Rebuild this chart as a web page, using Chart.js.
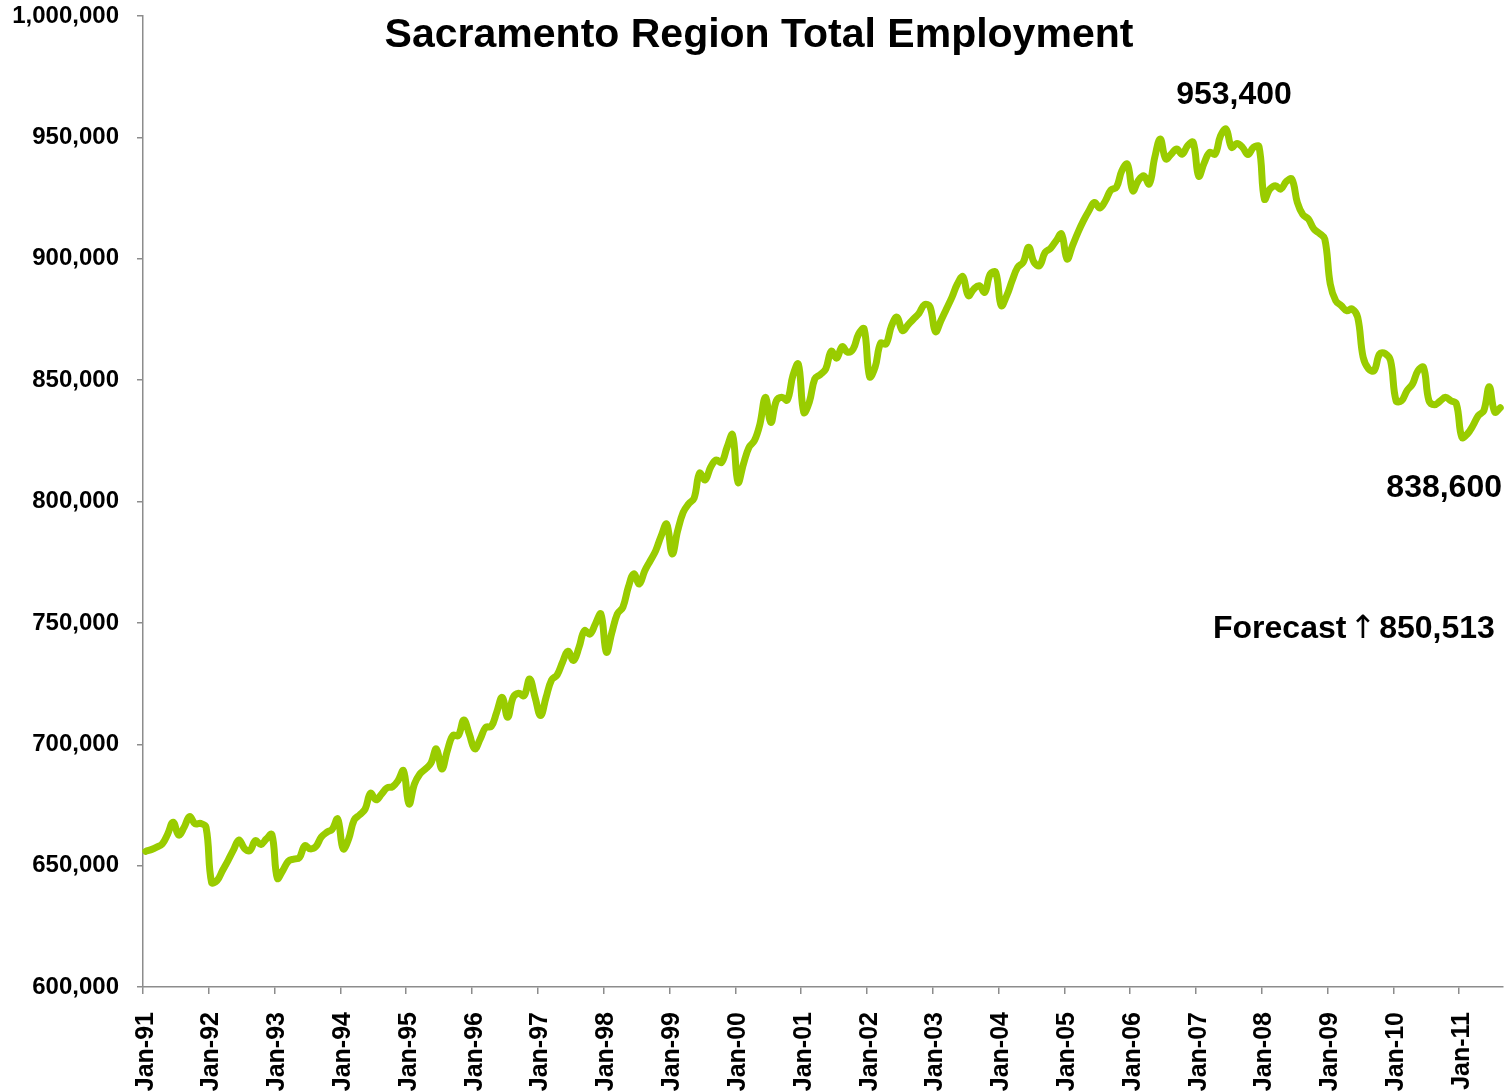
<!DOCTYPE html>
<html>
<head>
<meta charset="utf-8">
<script src="https://cdn.jsdelivr.net/npm/chart.js@4"></script>
<style>
  html, body { margin: 0; padding: 0; background: #fff; }
  canvas { display: block; }
</style>
</head>
<body>
<canvas id="chart" width="1504" height="1091"></canvas>
<script>
const years = ["91","92","93","94","95","96","97","98","99","00","01","02","03","04","05","06","07","08","09","10","11"];
const months = ["Jan","Feb","Mar","Apr","May","Jun","Jul","Aug","Sep","Oct","Nov","Dec"];

// monthly total employment, Jan-91 .. Aug-11
const employment = [
  655900, 656600, 657600, 658900, 663000, 667900, 662600, 665800, 670200, 667200, 667400, 665800,
  643100, 643800, 648000, 652100, 656500, 660600, 657100, 656200, 660300, 658700, 661000, 662800,
  644800, 648000, 651800, 652700, 653200, 658200, 656900, 657800, 661700, 663700, 665000, 669200,
  656900, 661000, 668800, 670900, 673300, 679800, 677100, 679500, 682000, 682500, 685000, 689100,
  675400, 683600, 687800, 689800, 692200, 698100, 689800, 697400, 703600, 703600, 710000, 704200,
  698100, 702200, 707000, 707300, 713200, 719300, 711100, 719300, 721000, 720000, 726900, 719300,
  711800, 719300, 726500, 728500, 733800, 738300, 734500, 739900, 746800, 745400, 749600, 753700,
  737900, 746000, 753700, 756400, 764700, 770200, 766000, 771500, 775600, 779800, 785900, 790700,
  778400, 788000, 795500, 799000, 801400, 811700, 808900, 814100, 817100, 816100, 822300, 827500,
  807900, 815500, 822300, 825100, 831900, 842900, 832600, 841500, 842900, 841800, 851800, 856600,
  836700, 840900, 850500, 852300, 854600, 861900, 859100, 863800, 861500, 862800, 869000, 871100,
  851400, 855300, 865200, 864900, 872400, 875900, 870400, 872800, 875200, 877500, 881100, 880300,
  870000, 874500, 879300, 884100, 889600, 892600, 884800, 887500, 888900, 886200, 893700, 894400,
  880700, 884800, 891000, 896500, 898500, 904700, 898500, 897200, 902600, 904300, 907400, 910200,
  899900, 905400, 910900, 915700, 919800, 923200, 920900, 923900, 928300, 929400, 936300, 939000,
  928000, 932200, 934200, 930800, 941800, 949300, 941100, 943100, 945200, 943100, 946600, 948000,
  934000, 939400, 943800, 943100, 950700, 953400, 945900, 947500, 945900, 942900, 945900, 946200,
  924600, 928700, 930100, 928700, 931900, 932800, 923200, 918200, 916400, 912300, 910500, 908100,
  889600, 882700, 880700, 878600, 879300, 875900, 859400, 854600, 853900, 860800, 861000, 858000,
  841500, 841500, 845700, 848400, 853900, 855300, 841500, 839900, 841300, 842900, 841500, 840200,
  826400, 827800, 831200, 835400, 837400, 847300, 836800, 838600
];

const chartTitle = "Sacramento Region Total Employment";
const peakLabel = "953,400";
const lastLabel = "838,600";
const forecastWord = "Forecast";
const forecastArrow = "↑";
const forecastValue = "850,513";

// one category per month
const labels = [];
for (const y of years) {
  for (const m of months) {
    if (labels.length < employment.length) labels.push(m + "-" + y);
  }
}

const axisGray = "#8c8c8c";
const fontFamily = "'Liberation Sans', Arial, sans-serif";

// title and value callouts are drawn on top of the chart area
const textPlugin = {
  id: "texts",
  afterDraw(chart) {
    const ctx = chart.ctx;
    const x = chart.scales.x;
    const y = chart.scales.y;
    const area = chart.chartArea;
    ctx.save();
    ctx.fillStyle = "#000";
    ctx.textBaseline = "alphabetic";

    ctx.font = "bold 41px " + fontFamily;
    ctx.textAlign = "center";
    ctx.fillText(chartTitle, 759, 47);

    ctx.font = "bold 32px " + fontFamily;
    const peakIdx = employment.indexOf(Math.max(...employment));
    ctx.fillText(peakLabel, x.getPixelForValue(peakIdx) + 8, y.getPixelForValue(employment[peakIdx]) - 25);

    ctx.textAlign = "right";
    ctx.fillText(lastLabel, area.right - 1, y.getPixelForValue(employment[employment.length - 1]) + 89);

    // Forecast ↑ 850,513, arrow in regular weight
    ctx.textAlign = "left";
    let fx = 1213;
    const fy = 638;
    ctx.fillText(forecastWord, fx, fy);
    fx += ctx.measureText(forecastWord).width + 3;
    ctx.font = "32px 'DejaVu Sans', " + fontFamily;
    ctx.fillText(forecastArrow, fx, fy);
    fx += ctx.measureText(forecastArrow).width + 3;
    ctx.font = "bold 32px " + fontFamily;
    ctx.fillText(forecastValue, fx, fy);
    ctx.restore();
  }
};

new Chart(document.getElementById("chart"), {
  type: "line",
  data: {
    labels: labels,
    datasets: [{
      data: employment,
      borderColor: "#99cc00",
      borderWidth: 7,
      borderCapStyle: "round",
      borderJoinStyle: "round",
      pointRadius: 0,
      tension: 0.4,
      fill: false
    }]
  },
  options: {
    responsive: false,
    animation: false,
    devicePixelRatio: 1,
    layout: { padding: { top: 16, right: 1, left: 0, bottom: 0 } },
    plugins: {
      legend: { display: false },
      tooltip: { enabled: false }
    },
    scales: {
      x: {
        type: "category",
        offset: true,
        grid: {
          offset: true,
          drawOnChartArea: false,
          tickLength: 7,
          lineWidth: 1.5,
          color: (c) => (c.index % 12 === 0 ? axisGray : "rgba(0,0,0,0)")
        },
        border: { color: axisGray, width: 1.5 },
        ticks: {
          autoSkip: false,
          minRotation: 90,
          maxRotation: 90,
          padding: 18,
          color: "#000",
          font: { family: fontFamily, size: 25, weight: "bold" },
          callback: function (val, i) {
            return i % 12 === 0 ? labels[i] : "";
          }
        },
        afterFit: (s) => { s.height = 104; s.paddingLeft = 0; s.paddingRight = 0; }
      },
      y: {
        min: 600000,
        max: 1000000,
        grid: {
          drawOnChartArea: false,
          tickLength: 6,
          lineWidth: 1.5,
          color: axisGray
        },
        border: { color: axisGray, width: 1.5 },
        ticks: {
          stepSize: 50000,
          padding: 18,
          color: "#000",
          font: { family: fontFamily, size: 24, weight: "bold" },
          callback: (v) => v.toLocaleString("en-US")
        },
        afterFit: (s) => { s.width = 143; s.paddingTop = 0; s.paddingBottom = 0; }
      }
    }
  },
  plugins: [textPlugin]
});
</script>
</body>
</html>
